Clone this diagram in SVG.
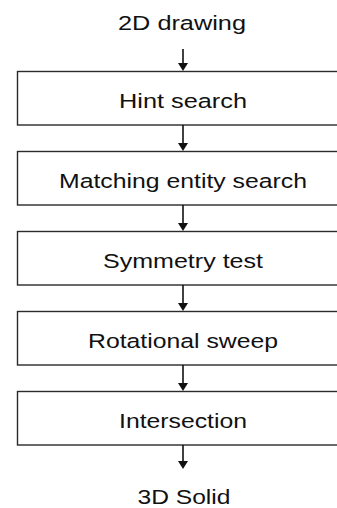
<svg xmlns="http://www.w3.org/2000/svg" width="337" height="508" viewBox="0 0 337 508">
<style>
.box{fill:#fff;stroke:#2a2a2a;stroke-width:1.4}
.t{font-family:"Liberation Sans",Arial,sans-serif;font-size:20.5px;fill:#111;text-anchor:middle}
.ln{stroke:#111;stroke-width:1.6;fill:none}
.hd{fill:#111}
</style>
<rect width="337" height="508" fill="#fff"/>
<g id="start"><text class="t" x="182" y="29.5" textLength="128" lengthAdjust="spacingAndGlyphs">2D drawing</text></g>
<g id="n1"><rect class="box" x="17.5" y="71.5" width="330" height="53.5"/><text class="t" x="183" y="108" textLength="128" lengthAdjust="spacingAndGlyphs">Hint search</text></g>
<g id="n2"><rect class="box" x="17.5" y="151.5" width="330" height="53.5"/><text class="t" x="183" y="188" textLength="248" lengthAdjust="spacingAndGlyphs">Matching entity search</text></g>
<g id="n3"><rect class="box" x="17.5" y="231.5" width="330" height="53.5"/><text class="t" x="183" y="268" textLength="160" lengthAdjust="spacingAndGlyphs">Symmetry test</text></g>
<g id="n4"><rect class="box" x="17.5" y="311.5" width="330" height="53.5"/><text class="t" x="183" y="348" textLength="190" lengthAdjust="spacingAndGlyphs">Rotational sweep</text></g>
<g id="n5"><rect class="box" x="17.5" y="391.5" width="330" height="53.5"/><text class="t" x="183" y="428" textLength="128" lengthAdjust="spacingAndGlyphs">Intersection</text></g>
<g id="end"><text class="t" x="184" y="503.5" textLength="93" lengthAdjust="spacingAndGlyphs">3D Solid</text></g>
<g id="connectors">
<line class="ln" x1="183" y1="49" x2="183" y2="64"/><polygon class="hd" points="178,63 188,63 183,71"/>
<line class="ln" x1="183" y1="125" x2="183" y2="144"/><polygon class="hd" points="178,143 188,143 183,151"/>
<line class="ln" x1="183" y1="205" x2="183" y2="224"/><polygon class="hd" points="178,223 188,223 183,231"/>
<line class="ln" x1="183" y1="285" x2="183" y2="304"/><polygon class="hd" points="178,303 188,303 183,311"/>
<line class="ln" x1="183" y1="365" x2="183" y2="384"/><polygon class="hd" points="178,383 188,383 183,391"/>
<line class="ln" x1="183" y1="445" x2="183" y2="462"/><polygon class="hd" points="178,461 188,461 183,469"/>
</g>
</svg>
